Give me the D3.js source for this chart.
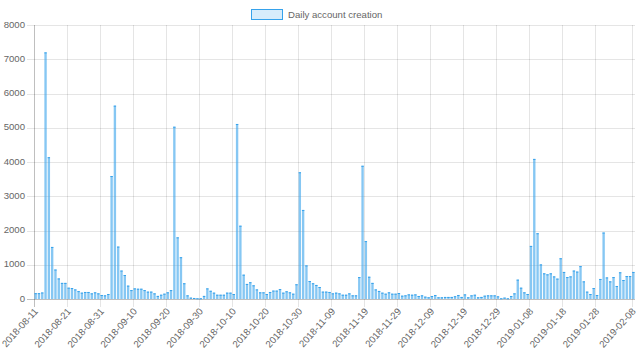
<!DOCTYPE html>
<html>
<head>
<meta charset="utf-8">
<script src="https://cdn.jsdelivr.net/npm/d3@7"></script>
<style>
  body { margin: 0; background: #fff; }
  text { font-family: "Liberation Sans", Arial, Helvetica, sans-serif; fill: #666; }
</style>
</head>
<body>
<div class="chart"></div>
<script>
// daily account creation, one value per day starting at firstDay
const seriesName = "Daily account creation";
const firstDay = "2018-08-11";
const accounts = [
  170, 170, 190, 7200, 4140, 1520, 860, 600, 470, 470,
  330, 320, 280, 230, 185, 205, 205, 165, 195, 165,
  117, 107, 146, 3590, 5645, 1530, 830, 700, 390, 260,
  310, 300, 300, 260, 215, 215, 165, 90, 125, 155,
  195, 260, 5030, 1800, 1220, 460, 107, 40, 30, 20,
  20, 90, 310, 240, 185, 125, 125, 125, 185, 185,
  146, 5110, 2140, 710, 440, 490, 400, 280, 195, 195,
  146, 205, 245, 245, 290, 185, 225, 195, 155, 430,
  3700, 2600, 980, 525, 460, 410, 350, 215, 215, 205,
  165, 185, 165, 125, 125, 165, 107, 107, 640, 3890,
  1690, 650, 470, 280, 235, 185, 155, 195, 155, 155,
  175, 97, 107, 135, 125, 135, 88, 107, 68, 50,
  88, 117, 50, 50, 60, 60, 60, 80, 117, 60,
  135, 50, 107, 125, 50, 60, 97, 107, 107, 107,
  78, 20, 40, 20, 88, 165, 565, 330, 195, 146,
  1550, 4090, 1920, 1010, 750, 720, 750, 660, 595, 1190,
  790, 640, 660, 830, 800, 960, 515, 215, 145, 320,
  117, 585, 1940, 630, 515, 640, 380, 780, 555, 670,
  670, 790
];
const tickLabels = [
  "2018-08-11", "2018-08-21", "2018-08-31", "2018-09-10", "2018-09-20",
  "2018-09-30", "2018-10-10", "2018-10-20", "2018-10-30", "2018-11-09",
  "2018-11-19", "2018-11-29", "2018-12-09", "2018-12-19", "2018-12-29",
  "2019-01-08", "2019-01-18", "2019-01-28", "2019-02-08"
];
const yTicks = [0, 1000, 2000, 3000, 4000, 5000, 6000, 7000, 8000];

const parseDay = d3.timeParse("%Y-%m-%d"),
      fmtDay = d3.timeFormat("%Y-%m-%d");
const days = accounts.map((v, i) => fmtDay(d3.timeDay.offset(parseDay(firstDay), i)));

const width = 640, height = 361;
const area = {left: 34, right: 635, top: 25, bottom: 299};

const svg = d3.select(".chart").append("svg")
    .attr("width", width)
    .attr("height", height);

const xScale = d3.scaleBand()
    .domain(days)
    .range([area.left, area.right]);

const yScale = d3.scaleLinear()
    .domain([0, 8000])
    .range([area.bottom, area.top]);

const grid = "rgba(0,0,0,0.1)";

// horizontal grid + y labels
svg.append("g").selectAll("line")
    .data(yTicks)
    .enter()
    .append("line")
    .attr("x1", area.left - 7)
    .attr("x2", area.right)
    .attr("y1", d => Math.round(yScale(d)) + 0.5)
    .attr("y2", d => Math.round(yScale(d)) + 0.5)
    .attr("stroke", d => d === 0 ? "rgba(0,0,0,0.25)" : grid);

svg.append("g").selectAll("text")
    .data(yTicks)
    .enter()
    .append("text")
    .attr("x", area.left - 9)
    .attr("y", d => yScale(d))
    .attr("text-anchor", "end")
    .attr("dominant-baseline", "middle")
    .style("font-size", "9.6px")
    .text(d => d);

// vertical grid at the labelled days only
svg.append("g").selectAll("line")
    .data(tickLabels)
    .enter()
    .append("line")
    .attr("x1", d => Math.round(xScale(d)) + 0.5)
    .attr("x2", d => Math.round(xScale(d)) + 0.5)
    .attr("y1", area.top)
    .attr("y2", area.bottom + 8)
    .attr("stroke", (d, i) => i === 0 ? "rgba(0,0,0,0.25)" : grid);

svg.append("g").selectAll("text")
    .data(tickLabels)
    .enter()
    .append("text")
    .attr("text-anchor", "end")
    .attr("dominant-baseline", "middle")
    .attr("transform", d => `translate(${xScale(d) + xScale.bandwidth() / 2 + 1},${area.bottom + 11})rotate(-48)`)
    .style("font-size", "9.6px")
    .text(d => d);

// bars
const bw = xScale.bandwidth() * 0.72;
const bars = svg.append("g");
bars.selectAll("rect")
    .data(accounts)
    .enter()
    .append("rect")
    .attr("x", (d, i) => xScale(days[i]) + (xScale.bandwidth() - bw) / 2)
    .attr("y", d => yScale(d))
    .attr("width", bw)
    .attr("height", d => area.bottom - yScale(d))
    .attr("fill", "rgba(54,162,235,0.6)");

bars.selectAll("line")
    .data(accounts)
    .enter()
    .append("line")
    .attr("x1", (d, i) => xScale(days[i]) + (xScale.bandwidth() - bw) / 2)
    .attr("x2", (d, i) => xScale(days[i]) + (xScale.bandwidth() + bw) / 2)
    .attr("y1", d => yScale(d) + 0.5)
    .attr("y2", d => yScale(d) + 0.5)
    .attr("stroke", "rgb(54,162,235)");

// legend
const legend = svg.append("g").attr("id", "legend");
legend.append("rect")
    .attr("x", 251.5)
    .attr("y", 9.5)
    .attr("width", 31)
    .attr("height", 10)
    .attr("fill", "rgba(54,162,235,0.2)")
    .attr("stroke", "rgb(54,162,235)");
legend.append("text")
    .attr("x", 288)
    .attr("y", 15)
    .attr("dominant-baseline", "middle")
    .style("font-size", "9.6px")
    .text(seriesName);
</script>
</body>
</html>
